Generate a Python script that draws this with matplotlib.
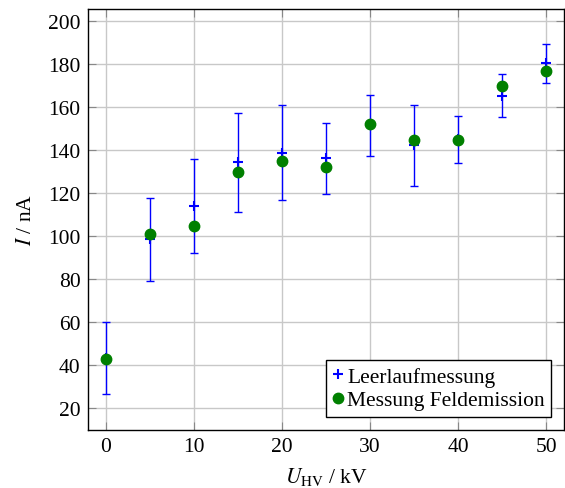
import numpy as np
import matplotlib.pyplot as plt

plt.rcParams['font.family'] = ['Liberation Serif', 'DejaVu Serif']
plt.rcParams['mathtext.fontset'] = 'stix'

# Data
u_kv = [0, 5, 10, 15, 20, 25, 30, 35, 40, 45, 50]
leerlauf = [43.3, 98.6, 114.2, 134.4, 138.8, 136.2, 151.6, 142.4, 145.2, 165.4, 180.4]
leerlauf_err = [16.7, 19.2, 21.9, 23.1, 22.1, 16.4, 14.3, 18.8, 10.9, 9.9, 9.1]
feldemission = [43, 101, 105, 130, 135, 132, 152, 145, 145, 170, 177]

fig = plt.figure(figsize=(5.65, 4.89), dpi=100)
ax = fig.add_axes([0.156, 0.119, 0.842, 0.861])

ax.errorbar(u_kv, leerlauf, yerr=leerlauf_err, fmt='none', ecolor='blue',
            elinewidth=1.0, capsize=3, capthick=1.0, zorder=2)
ax.plot(u_kv, leerlauf, '+', color='blue', markersize=7, markeredgewidth=1.5,
        label='Leerlaufmessung', zorder=3)
ax.plot(u_kv, feldemission, 'o', color='green', markersize=7.5,
        label='Messung Feldemission', zorder=4)

ax.set_xlim(-2, 52)
ax.set_ylim(10, 205.8)
ax.set_xticks(range(0, 51, 10))
ax.set_yticks(range(20, 201, 20))
ax.grid(True, color='#c8c8c8', linewidth=1.0)
ax.set_axisbelow(True)
ax.tick_params(direction='in', top=True, right=True, labelsize=15.5,
               color='#888888', length=5.5, pad=5.5)
for s in ax.spines.values():
    s.set_linewidth(1.0)

ax.set_xlabel(r'$U_{\mathrm{HV}}$ / kV', fontsize=15.5, labelpad=6)
ax.set_ylabel(r'$I$ / nA', fontsize=15.5, labelpad=9)

leg = ax.legend(loc='lower right', fontsize=15.5, frameon=True, fancybox=False,
                edgecolor='black', framealpha=1, handlelength=0.5,
                handletextpad=0.15, borderpad=0.3, labelspacing=0.15,
                borderaxespad=0, bbox_to_anchor=(0.973, 0.031))
leg.get_frame().set_linewidth(1.0)

fig.savefig('out.png', dpi=100)
